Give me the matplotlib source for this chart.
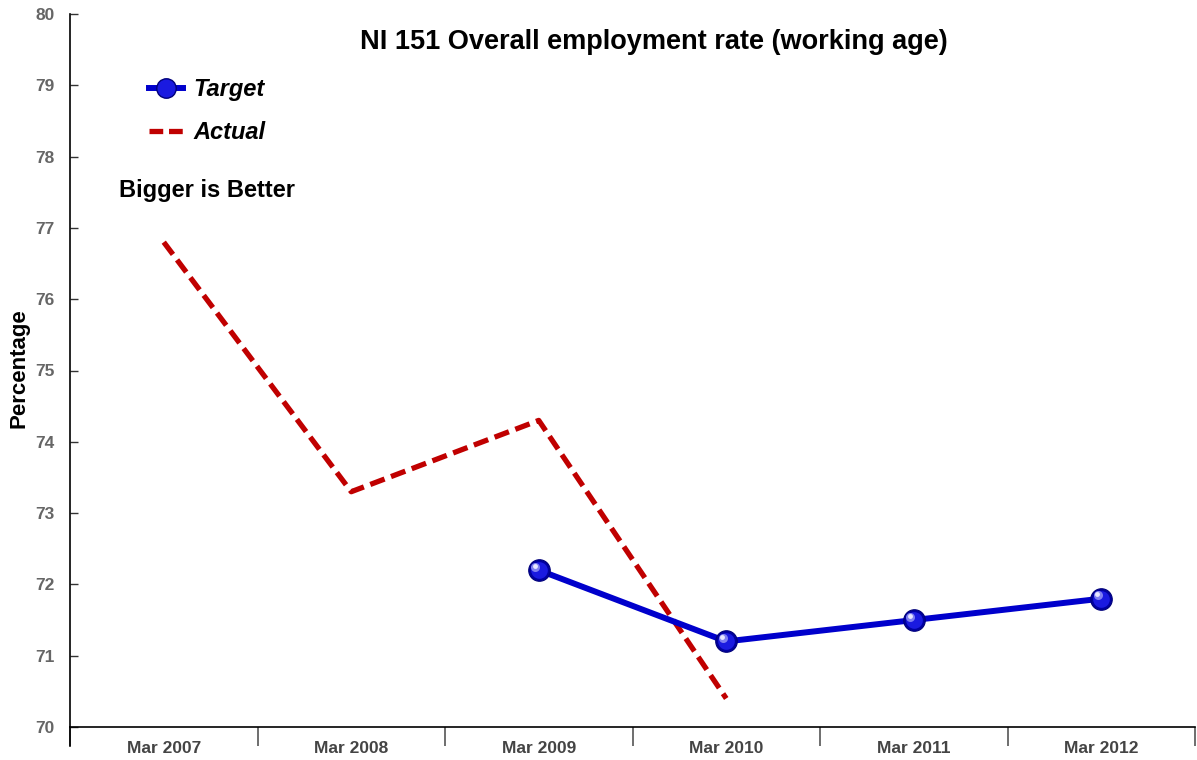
import matplotlib
matplotlib.use("Agg")
import matplotlib.pyplot as plt
from matplotlib.lines import Line2D
from matplotlib.transforms import offset_copy

plt.rcParams['font.family'] = ['Liberation Sans', 'DejaVu Sans']

periods = ["Mar 2007", "Mar 2008", "Mar 2009", "Mar 2010", "Mar 2011", "Mar 2012"]
actual_periods = ["Mar 2007", "Mar 2008", "Mar 2009", "Mar 2010"]
actual_values = [76.8, 73.3, 74.3, 70.4]
target_periods = ["Mar 2009", "Mar 2010", "Mar 2011", "Mar 2012"]
target_values = [72.2, 71.2, 71.5, 71.8]
y_ticks = [70, 71, 72, 73, 74, 75, 76, 77, 78, 79, 80]

W, H = 1197, 760
fig = plt.figure(figsize=(W / 100, H / 100), dpi=100)
ax = fig.add_axes([70 / W, 1 - 727 / H, (1195 - 70) / W, (727 - 14) / H])

pos = {p: i for i, p in enumerate(periods)}
ax_x = [pos[p] for p in actual_periods]
tg_x = [pos[p] for p in target_periods]

blue = "#0000CC"
red = "#C00000"

ax.plot(ax_x, actual_values, color=red, lw=3.8, dashes=(2.9, 1.3),
        solid_capstyle='butt', zorder=3)
ax.plot(tg_x, target_values, color=blue, lw=4.3, zorder=4)
# spherical markers: dark rim, body, and a soft highlight
ax.plot(tg_x, target_values, 'o', ms=15.5, mfc="#0000A0", mec="#00007A", mew=0.8, zorder=5)
ax.plot(tg_x, target_values, 'o', ms=12, mfc="#1A1AE0", mec='none', zorder=6)
hl = offset_copy(ax.transData, fig=fig, x=-2.5, y=2.5, units='points')
ax.plot(tg_x, target_values, 'o', ms=6.5, mfc="#8080F0", mec='none', transform=hl, zorder=7)
hl2 = offset_copy(ax.transData, fig=fig, x=-3, y=3, units='points')
ax.plot(tg_x, target_values, 'o', ms=3.5, mfc="#E8E8FF", mec='none', transform=hl2, zorder=8)

ax.set_xlim(-0.5, len(periods) - 0.5)
ax.set_ylim(70, 80)
ax.set_yticks(y_ticks)
ax.set_yticklabels([str(v) for v in y_ticks], fontsize=12.5, fontweight='bold', color="#666666")
ax.tick_params(axis='y', direction='in', length=6, width=1, color="#333333", pad=11)

ax.set_xticks([i - 0.5 for i in range(len(periods) + 1)])
ax.set_xticklabels([])
ax.tick_params(axis='x', which='major', direction='out', length=14, width=1.2, color="#555555")
ax.set_xticks(range(len(periods)), minor=True)
ax.set_xticklabels(periods, minor=True, fontsize=12.5, fontweight='bold', color="#444444")
ax.tick_params(axis='x', which='minor', length=0, pad=10)

for s in ['top', 'right']:
    ax.spines[s].set_visible(False)
ax.spines['left'].set_color('black')
ax.spines['bottom'].set_color('black')
ax.spines['left'].set_linewidth(1.2)
ax.spines['bottom'].set_linewidth(1.2)
# the value axis runs on below the category axis
ax.plot([0, 0], [0, -19 / 713], transform=ax.transAxes, color='black', lw=1.2, clip_on=False)

fig.text(19 / W, 1 - 368 / H, "Percentage", rotation=90, ha='center', va='center',
         fontsize=16, fontweight='bold')

fig.text(654 / W, 1 - 42 / H, "NI 151 Overall employment rate (working age)",
         ha='center', va='center', fontsize=19.5, fontweight='bold')

handles = [Line2D([], [], color=blue, lw=4.3, marker='o', ms=14, mfc="#1A1AE0", mec="#00007A"),
           Line2D([], [], color=red, lw=3.8, dashes=(2.6, 1.1))]
leg = fig.legend(handles, ["Target", "Actual"], loc='upper left',
                 bbox_to_anchor=(137 / W, 1 - 66 / H), frameon=False,
                 prop={'size': 17, 'weight': 'bold', 'style': 'italic'},
                 handlelength=1.45, handletextpad=0.45, labelspacing=0.85, borderpad=0)

fig.text(119 / W, 1 - 191 / H, "Bigger is Better", ha='left', va='center',
         fontsize=17, fontweight='bold')

fig.savefig("out.png", dpi=100)
